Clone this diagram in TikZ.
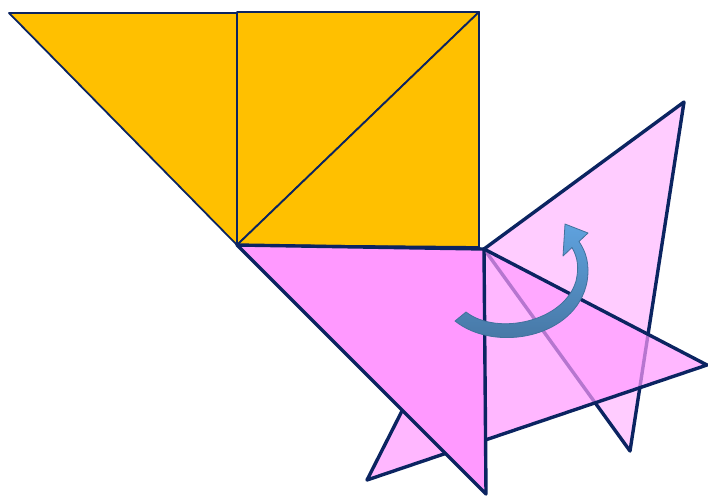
\documentclass[tikz,border=0pt]{standalone}
\usepackage{tikz}
\usetikzlibrary{calc}

\definecolor{tanyellow}{HTML}{FFC000}
\definecolor{tanpink}{HTML}{FF99FF}
\definecolor{edgeblue}{HTML}{0B2461}
\definecolor{arrowtop}{HTML}{5FA2DE}
\definecolor{arrowbot}{HTML}{44739F}
\definecolor{arrowedge}{HTML}{41719C}

\begin{document}
\begin{tikzpicture}[
    x=1pt, y=-1pt,
    yellowpiece/.style={fill=tanyellow, draw=edgeblue, line width=1.8pt, line join=round},
    pinkpiece/.style={fill=tanpink, draw=edgeblue, line width=3.4pt, line join=round},
    ghostback/.style={pinkpiece, fill opacity=0.5},
    ghostfront/.style={pinkpiece, fill opacity=0.7},
    turnarrow/.style={top color=arrowtop, bottom color=arrowbot, draw=arrowedge, line width=0.8pt, line join=round}
]
\useasboundingbox (0,0) rectangle (708,499);

% yellow pieces
\coordinate (tl) at (9,13);
\coordinate (sqtl) at (237,12);
\coordinate (sqtr) at (479,12);
\coordinate (sqbr) at (479,247);
\coordinate (pivot) at (237,245);
\draw[yellowpiece] (tl) -- (237,13) -- (pivot) -- cycle;
\draw[yellowpiece] (pivot) -- (sqtl) -- (sqtr) -- cycle;
\draw[yellowpiece] (pivot) -- (sqtr) -- (sqbr) -- cycle;

% turned copies
\coordinate (hinge) at (484,249);
\coordinate (backtop) at (684,102);
\coordinate (backtip) at (630,451);
\coordinate (frontright) at (707,365);
\coordinate (frontleft) at (367,480);
\draw[ghostback] (hinge) -- (backtop) -- (backtip) -- cycle;
\draw[ghostfront] (hinge) -- (frontright) -- (frontleft) -- cycle;

% pink piece
\coordinate (pinktip) at (486,494);
\draw[pinkpiece] (pivot) -- (hinge) -- (pinktip) -- cycle;

% turning arrow
\shade[turnarrow] (455,321) .. controls (495,353) and (576,338) .. (587,282)
    .. controls (590,264) and (586,252) .. (579,241.5)
    -- (588,233) -- (565,224) -- (563,256) -- (572,247.5)
    .. controls (578,258) and (579,268) .. (576,281)
    .. controls (564,322) and (497,336) .. (466,312) -- cycle;
\end{tikzpicture}
\end{document}
